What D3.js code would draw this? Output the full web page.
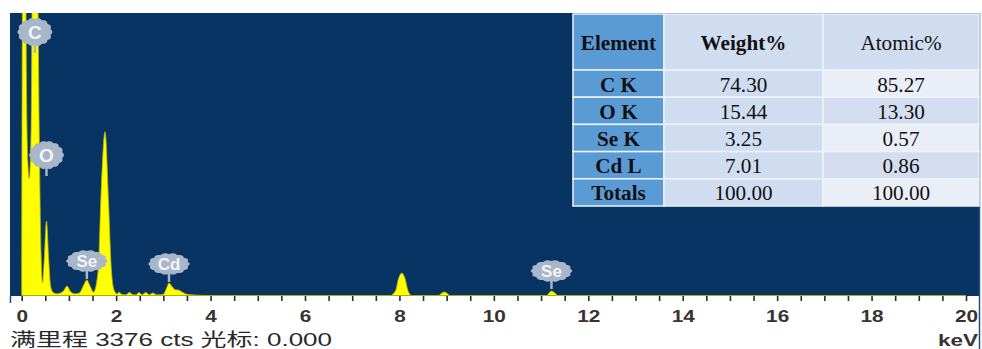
<!DOCTYPE html>
<html>
<head>
<meta charset="utf-8">
<script src="https://cdn.jsdelivr.net/npm/d3@7"></script>
<style>
  html, body { margin: 0; padding: 0; background: #ffffff; }
  svg { display: block; }
</style>
</head>
<body>
<svg id="chart" width="982" height="349"></svg>
<script>
// ---- EDS spectrum (energy in keV, intensity in counts) ----
const energyKeV = [
  0.00, 0.01, 0.02, 0.05, 0.08, 0.10, 0.13, 0.16, 0.20, 0.23, 0.28, 0.33, 0.37, 0.41, 0.44,
  0.48, 0.525, 0.57, 0.61, 0.66, 0.75, 0.88, 0.96, 1.03, 1.12, 1.22, 1.31, 1.38, 1.45, 1.52,
  1.62, 1.68, 1.765, 1.84, 1.90, 1.96, 2.02, 2.06, 2.12, 2.20, 2.28, 2.36, 2.42, 2.48, 2.55,
  2.63, 2.70, 2.78, 2.86, 3.00, 3.07, 3.12, 3.18, 3.25, 3.32, 3.40, 3.50, 3.70, 4.00, 7.80,
  7.92, 7.98, 8.05, 8.12, 8.18, 8.26, 8.82, 8.90, 8.95, 9.00, 9.08, 11.12, 11.18, 11.22, 11.28,
  11.36, 20.00
];
const counts = [
  400, 2800, 4500, 6500, 4500, 2600, 1600, 1400, 2000, 4500, 7600, 4500, 2000, 500, 150,
  450, 890, 450, 120, 40, 20, 50, 113, 50, 20, 30, 120, 185, 110, 40,
  300, 1200, 1957, 1100, 300, 60, 20, 40, 15, 8, 35, 10, 8, 35, 10,
  35, 10, 30, 8, 15, 90, 150, 110, 70, 65, 40, 15, 5, 0, 0,
  60, 200, 269, 200, 60, 0, 0, 30, 42, 30, 0, 0, 35, 54, 35,
  0, 0
];
const fullScaleCounts = 3376;
const cursorKeV = 0;
const axisLabelKeV = [0, 2, 4, 6, 8, 10, 12, 14, 16, 18, 20];

// ---- peak identification ----
const peakLabels = ["C", "O", "Se", "Cd", "Se"];
const peakLabelKeV = [0.28, 0.525, 1.38, 3.12, 11.22];

// ---- quantification table ----
const tableHeader = ["Element", "Weight%", "Atomic%"];
const tableElements = ["C K", "O K", "Se K", "Cd L", "Totals"];
const weightPct = [74.30, 15.44, 3.25, 7.01, 100.00];
const atomicPct = [85.27, 13.30, 0.57, 0.86, 100.00];

// ================= drawing =================
const svg = d3.select("#chart");
const frame = { left: 10, right: 979, top: 13, bottom: 296 };

const x = d3.scaleLinear().domain([0, 20]).range([21.7, 966]);
const y = d3.scaleLinear().domain([0, fullScaleCounts]).range([295.5, frame.top]);

svg.append("defs").append("clipPath").attr("id", "plotClip")
  .append("rect")
  .attr("x", frame.left).attr("y", frame.top)
  .attr("width", frame.right - frame.left).attr("height", frame.bottom - frame.top);

// navy plot field
svg.append("rect")
  .attr("x", frame.left).attr("y", frame.top)
  .attr("width", frame.right - frame.left).attr("height", frame.bottom - frame.top)
  .attr("fill", "#073463");

// frame edges continuing into the axis strip
svg.append("line").attr("x1", frame.right + 0.5).attr("x2", frame.right + 0.5)
  .attr("y1", frame.top).attr("y2", 349).attr("stroke", "#1f4f86").attr("stroke-width", 1.5);
svg.append("line").attr("x1", frame.left + 0.5).attr("x2", frame.left + 0.5)
  .attr("y1", frame.bottom).attr("y2", 303).attr("stroke", "#1f4f86").attr("stroke-width", 1.5);

// spectrum
const spectrum = d3.zip(energyKeV, counts);
const area = d3.area()
  .x(d => x(d[0]))
  .y0(y(0))
  .y1(d => y(d[1]))
  .curve(d3.curveMonotoneX);

svg.append("path")
  .datum(spectrum)
  .attr("clip-path", "url(#plotClip)")
  .attr("fill", "#ffff00")
  .attr("stroke", "#b9b400")
  .attr("stroke-width", 0.8)
  .attr("d", area);

// peak badges
const countAt = e => {
  const i = d3.minIndex(energyKeV, v => Math.abs(v - e));
  return counts[i];
};
const badgeLift = [0, 66, 19, 19, 20];
function badgePath(rx, ry) {
  const pts = d3.range(0, 2 * Math.PI, Math.PI / 60).map(t => {
    const k = 1 + 0.09 * Math.abs(Math.cos(7 * t));
    return [Math.cos(t) * rx * k, Math.sin(t) * ry * k];
  });
  return d3.line().curve(d3.curveLinearClosed)(pts);
}
const badges = svg.append("g").attr("clip-path", "url(#plotClip)")
  .selectAll("g").data(peakLabels).join("g")
  .attr("transform", (d, i) => {
    const cx = x(peakLabelKeV[i]);
    const cy = Math.max(frame.top + 19, y(countAt(peakLabelKeV[i])) - badgeLift[i]);
    return `translate(${cx},${cy})`;
  });
badges.each(function (d) {
  const g = d3.select(this);
  const rx = d.length > 1 ? 19 : 16;
  const ry = d.length > 1 ? 10 : 13;
  g.append("line").attr("x1", 0).attr("x2", 0).attr("y1", ry).attr("y2", ry + 8)
    .attr("stroke", "#a9b5c8").attr("stroke-width", 2.5);
  g.append("path").attr("d", badgePath(rx, ry)).attr("fill", "#a9b5c8");
  g.append("text").text(d)
    .attr("text-anchor", "middle").attr("dy", "0.36em")
    .attr("font-family", "'Liberation Sans', Arial, sans-serif")
    .attr("font-weight", "bold")
    .attr("font-size", d.length > 1 ? 17 : 19)
    .attr("fill", "#f2f5fa");
});

// energy axis
const tickAxis = d3.axisBottom(x)
  .tickValues(d3.range(0, 20.01, 0.5))
  .tickSize(5)
  .tickFormat("");
const gt = svg.append("g").attr("transform", `translate(0,${frame.bottom})`).call(tickAxis);
gt.select(".domain").remove();
gt.selectAll(".tick line").attr("stroke", "#2a2a2a").attr("stroke-width", 1.6);

const labelAxis = d3.axisBottom(x)
  .tickValues(axisLabelKeV)
  .tickSize(0)
  .tickFormat(d3.format("d"));
const gl = svg.append("g").attr("transform", `translate(0,${frame.bottom})`).call(labelAxis);
gl.select(".domain").remove();
gl.selectAll(".tick text")
  .attr("y", 26).attr("dy", 0)
  .attr("transform", "scale(1.3,1)")
  .attr("font-family", "'Liberation Sans', Arial, sans-serif")
  .attr("font-weight", "bold")
  .attr("font-size", 16)
  .attr("fill", "#3a3232");

svg.append("text")
  .attr("x", 978).attr("y", 346)
  .attr("text-anchor", "end")
  .attr("font-family", "'Liberation Sans', Arial, sans-serif")
  .attr("font-weight", "bold")
  .attr("font-size", 16)
  .attr("fill", "#3a3232")
  .attr("textLength", 40).attr("lengthAdjust", "spacingAndGlyphs")
  .text("keV");

svg.append("text")
  .attr("x", 10).attr("y", 346)
  .attr("font-family", "'Liberation Sans', Arial, 'Noto Sans CJK SC', sans-serif")
  .attr("font-size", 18)
  .attr("fill", "#2a2a2a")
  .attr("textLength", 322).attr("lengthAdjust", "spacingAndGlyphs")
  .text(`满里程 ${fullScaleCounts} cts 光标: ${d3.format(".3f")(cursorKeV)}`);

// quantification table
const colEdges = [573, 664, 823, 979];
const headTop = 14, headBottom = 70, rowH = 27.2;
const fmt = d3.format(".2f");
const tbl = svg.append("g");
const cellText = (cx, cy, txt, bold) => {
  tbl.append("text")
    .attr("transform", `translate(${cx},${cy}) scale(1.06,1)`)
    .attr("text-anchor", "middle").attr("dy", "0.35em")
    .attr("font-family", "'Liberation Serif', 'Times New Roman', serif")
    .attr("font-weight", bold ? "bold" : "normal")
    .attr("font-size", 20)
    .attr("fill", "#111111")
    .text(txt);
};
const colMid = i => (colEdges[i] + colEdges[i + 1]) / 2;

// header row
const headFill = ["#5b9bd5", "#d0dcef", "#d0dcef"];
tableHeader.forEach((h, i) => {
  tbl.append("rect")
    .attr("x", colEdges[i]).attr("y", headTop)
    .attr("width", colEdges[i + 1] - colEdges[i]).attr("height", headBottom - headTop)
    .attr("fill", headFill[i]).attr("stroke", "#eef3fa").attr("stroke-width", 1.5);
  cellText(colMid(i), (headTop + headBottom) / 2 + 1, h, i < 2);
});

// body rows
tableElements.forEach((el, r) => {
  const top = headBottom + r * rowH;
  const cy = top + rowH / 2 + 1;
  const fills = ["#5b9bd5", "#d0dcef", r % 2 === 0 ? "#e9eef7" : "#d3ddef"];
  const texts = [el, fmt(weightPct[r]), fmt(atomicPct[r])];
  fills.forEach((f, i) => {
    tbl.append("rect")
      .attr("x", colEdges[i]).attr("y", top)
      .attr("width", colEdges[i + 1] - colEdges[i]).attr("height", rowH)
      .attr("fill", f).attr("stroke", "#eef3fa").attr("stroke-width", 1.5);
    cellText(colMid(i), cy, texts[i], i === 0);
  });
});
</script>
</body>
</html>
